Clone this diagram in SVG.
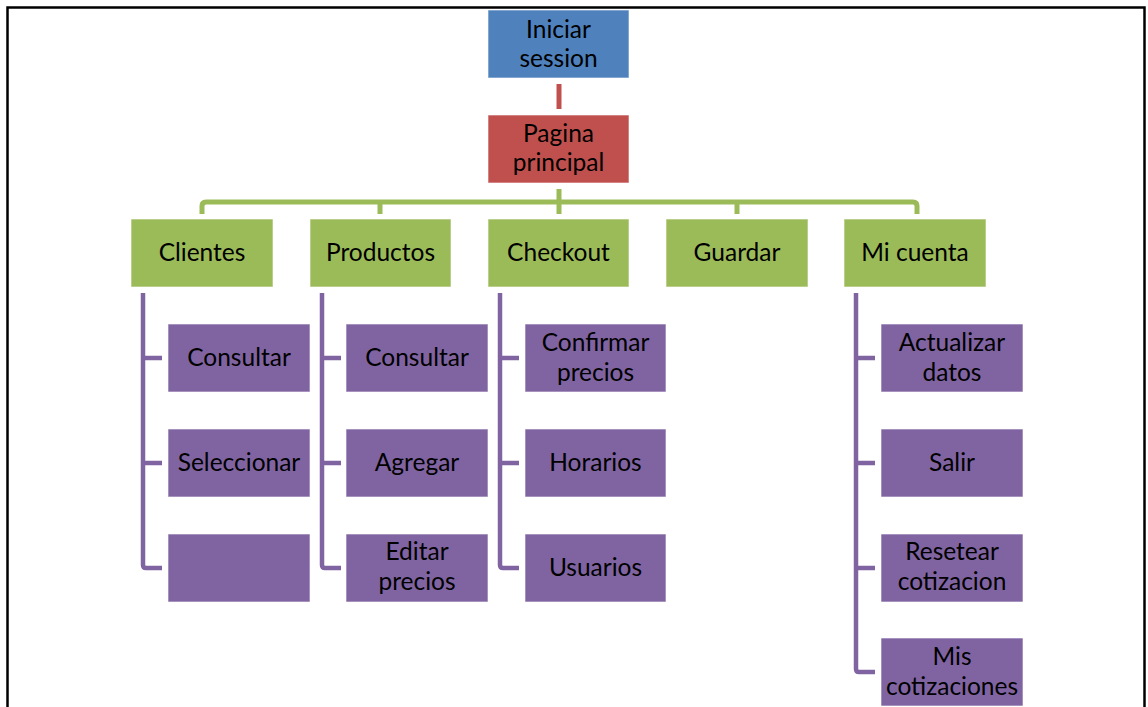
<svg xmlns="http://www.w3.org/2000/svg" width="1148" height="707" viewBox="0 0 1148 707">
  <style>
    .box { stroke: #ffffff; stroke-opacity: 0.6; stroke-width: 1; }
    .blue { fill: #4F81BD; }
    .red { fill: #C0504D; }
    .green { fill: #9BBB59; }
    .purple { fill: #8064A2; }
    .lbl { font-family: Lato, "Liberation Sans", sans-serif; font-size: 24.5px; fill: #000000; text-anchor: middle; }
    .c-red { stroke: #C0504D; stroke-width: 5; fill: none; }
    .c-green { stroke: #9BBB59; stroke-width: 5; fill: none; stroke-linejoin: round; }
    .c-purple { stroke: #8064A2; stroke-width: 4.5; fill: none; stroke-linejoin: round; }
  </style>

  <rect x="0" y="0" width="1148" height="707" fill="#ffffff"/>
  <!-- page frame -->
  <rect x="7.5" y="7.5" width="1137" height="720" fill="none" stroke="#000000" stroke-width="2.5"/>

  <g id="connectors">
    <line class="c-red" x1="559" y1="84" x2="559" y2="109"/>
    <line class="c-green" x1="559" y1="189" x2="559" y2="214"/>
    <path class="c-green" d="M202,214 V206 Q202,202 206,202 H913 Q917,202 917,206 V214"/>
    <line class="c-green" x1="380" y1="202" x2="380" y2="214"/>
    <line class="c-green" x1="737" y1="202" x2="737" y2="214"/>
    <!-- Clientes -->
    <path class="c-purple" d="M143,293 V565 Q143,568 146,568 H162 M143,358 H162 M143,463 H162"/>
    <!-- Productos -->
    <path class="c-purple" d="M322,293 V565 Q322,568 325,568 H341 M322,358 H341 M322,463 H341"/>
    <!-- Checkout -->
    <path class="c-purple" d="M500,293 V565 Q500,568 503,568 H519 M500,358 H519 M500,463 H519"/>
    <!-- Mi cuenta -->
    <path class="c-purple" d="M856,293 V669 Q856,672 859,672 H875 M856,358 H875 M856,463 H875 M856,568 H875"/>
  </g>

  <g id="iniciar-session">
    <rect class="box blue" x="488" y="10" width="141" height="68"/>
    <text class="lbl" x="558.5" y="38">Iniciar</text>
    <text class="lbl" x="558.5" y="67">session</text>
  </g>
  <g id="pagina-principal">
    <rect class="box red" x="488" y="115" width="141" height="68"/>
    <text class="lbl" x="558.5" y="142">Pagina</text>
    <text class="lbl" x="558.5" y="171">principal</text>
  </g>

  <g id="clientes">
    <rect class="box green" x="131" y="219" width="142" height="68"/>
    <text class="lbl" x="202" y="261">Clientes</text>
  </g>
  <g id="productos">
    <rect class="box green" x="310" y="219" width="141" height="68"/>
    <text class="lbl" x="380.5" y="261">Productos</text>
  </g>
  <g id="checkout">
    <rect class="box green" x="488" y="219" width="141" height="68"/>
    <text class="lbl" x="558.5" y="261">Checkout</text>
  </g>
  <g id="guardar">
    <rect class="box green" x="666" y="219" width="142" height="68"/>
    <text class="lbl" x="737" y="261">Guardar</text>
  </g>
  <g id="mi-cuenta">
    <rect class="box green" x="844" y="219" width="142" height="68"/>
    <text class="lbl" x="915" y="261">Mi cuenta</text>
  </g>

  <g id="clientes-consultar">
    <rect class="box purple" x="168" y="324" width="142" height="68"/>
    <text class="lbl" x="239" y="366">Consultar</text>
  </g>
  <g id="clientes-seleccionar">
    <rect class="box purple" x="168" y="429" width="142" height="68"/>
    <text class="lbl" x="239" y="471">Seleccionar</text>
  </g>
  <g id="clientes-vacio">
    <rect class="box purple" x="168" y="534" width="142" height="68"/>
  </g>

  <g id="productos-consultar">
    <rect class="box purple" x="346" y="324" width="142" height="68"/>
    <text class="lbl" x="417" y="366">Consultar</text>
  </g>
  <g id="productos-agregar">
    <rect class="box purple" x="346" y="429" width="142" height="68"/>
    <text class="lbl" x="417" y="471">Agregar</text>
  </g>
  <g id="productos-editar">
    <rect class="box purple" x="346" y="534" width="142" height="68"/>
    <text class="lbl" x="417" y="560">Editar</text>
    <text class="lbl" x="417" y="590">precios</text>
  </g>

  <g id="checkout-confirmar">
    <rect class="box purple" x="525" y="324" width="141" height="68"/>
    <text class="lbl" x="595.5" y="351">Confirmar</text>
    <text class="lbl" x="595.5" y="381">precios</text>
  </g>
  <g id="checkout-horarios">
    <rect class="box purple" x="525" y="429" width="141" height="68"/>
    <text class="lbl" x="595.5" y="471">Horarios</text>
  </g>
  <g id="checkout-usuarios">
    <rect class="box purple" x="525" y="534" width="141" height="68"/>
    <text class="lbl" x="595.5" y="576">Usuarios</text>
  </g>

  <g id="cuenta-actualizar">
    <rect class="box purple" x="881" y="324" width="142" height="68"/>
    <text class="lbl" x="952" y="351">Actualizar</text>
    <text class="lbl" x="952" y="381">datos</text>
  </g>
  <g id="cuenta-salir">
    <rect class="box purple" x="881" y="429" width="142" height="68"/>
    <text class="lbl" x="952" y="471">Salir</text>
  </g>
  <g id="cuenta-resetear">
    <rect class="box purple" x="881" y="534" width="142" height="68"/>
    <text class="lbl" x="952" y="560">Resetear</text>
    <text class="lbl" x="952" y="590">cotizacion</text>
  </g>
  <g id="cuenta-mis-cotizaciones">
    <rect class="box purple" x="881" y="638" width="142" height="68"/>
    <text class="lbl" x="952" y="665">Mis</text>
    <text class="lbl" x="952" y="695">cotizaciones</text>
  </g>
</svg>
